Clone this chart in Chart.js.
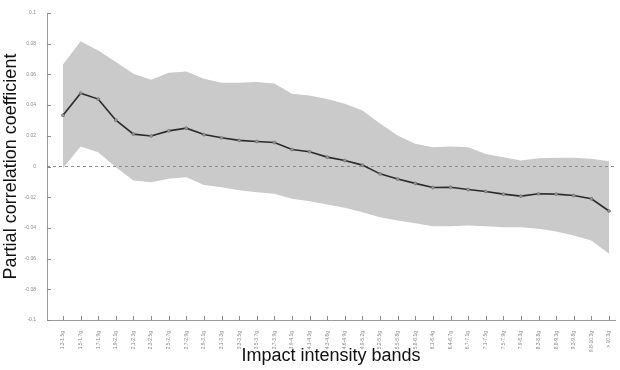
<!DOCTYPE html>
<html>
<head>
<meta charset="utf-8">
<script src="https://cdn.jsdelivr.net/npm/chart.js@4.4.0/dist/chart.umd.min.js"></script>
<style>
  html, body { margin: 0; padding: 0; background: #fff; }
  #wrap { width: 620px; height: 370px; }
</style>
</head>
<body>
<div id="wrap"><canvas id="myChart" width="620" height="370"></canvas></div>
<script>
const bands = ["1.3-1.5g", "1.5-1.7g", "1.7-1.9g", "1.9-2.1g", "2.1-2.3g", "2.3-2.5g", "2.5-2.7g", "2.7-2.9g",
    "2.9-3.1g", "3.1-3.3g", "3.3-3.5g", "3.5-3.7g", "3.7-3.9g", "3.9-4.1g", "4.1-4.3g", "4.3-4.6g",
    "4.6-4.9g", "4.9-5.2g", "5.2-5.5g", "5.5-5.8g", "5.8-6.1g", "6.1-6.4g", "6.4-6.7g", "6.7-7.1g",
    "7.1-7.5g", "7.5-7.9g", "7.9-8.3g", "8.3-8.8g", "8.8-9.3g", "9.3-9.8g", "9.8-10.3g", "> 10.3g"];

const meanCoef = [0.0334, 0.0478, 0.0439, 0.0302, 0.0211, 0.0199, 0.0232, 0.0250,
    0.0208, 0.0187, 0.0170, 0.0163, 0.0156, 0.0111, 0.0096, 0.0061,
    0.0039, 0.0009, -0.0048, -0.0082, -0.0110, -0.0137, -0.0135, -0.0150,
    -0.0163, -0.0180, -0.0193, -0.0178, -0.0180, -0.0189, -0.0210, -0.0290];

const upperCI = [0.0664, 0.0816, 0.0756, 0.0680, 0.0604, 0.0565, 0.0610, 0.0619,
    0.0571, 0.0545, 0.0545, 0.0550, 0.0540, 0.0474, 0.0463, 0.0440,
    0.0408, 0.0365, 0.0280, 0.0202, 0.0148, 0.0125, 0.0130, 0.0126,
    0.0082, 0.0060, 0.0039, 0.0054, 0.0057, 0.0057, 0.0050, 0.0035];

const lowerCI = [-0.0010, 0.0130, 0.0093, -0.0005, -0.0091, -0.0102, -0.0080, -0.0070,
    -0.0120, -0.0135, -0.0154, -0.0167, -0.0178, -0.0210, -0.0226, -0.0248,
    -0.0269, -0.0298, -0.0330, -0.0352, -0.0370, -0.0390, -0.0390, -0.0384,
    -0.0390, -0.0395, -0.0395, -0.0406, -0.0423, -0.0449, -0.0482, -0.0569];

const yTicks = [-0.1, -0.08, -0.06, -0.04, -0.02, 0, 0.02, 0.04, 0.06, 0.08, 0.1];

const xMin = -0.91;
const xMax = 31.34;

function toPoints(arr) {
    return arr.map((v, i) => ({x: i, y: v}));
}

// small tick marks drawn on the inside of the axes
const innerTicks = {
    id: 'innerTicks',
    afterDatasetsDraw(chart) {
        const ctx = chart.ctx;
        const x = chart.scales.x;
        const y = chart.scales.y;
        ctx.save();
        ctx.strokeStyle = '#8a8a8a';
        ctx.lineWidth = 1;
        ctx.beginPath();
        bands.forEach((b, i) => {
            const px = Math.round(x.getPixelForValue(i)) + 0.5;
            ctx.moveTo(px, y.bottom);
            ctx.lineTo(px, y.bottom - 4);
        });
        yTicks.forEach(v => {
            const py = Math.round(y.getPixelForValue(v)) + 0.5;
            ctx.moveTo(x.left, py);
            ctx.lineTo(x.left + 4, py);
        });
        ctx.stroke();
        ctx.restore();
    }
};

const ctx = document.getElementById('myChart').getContext('2d');
new Chart(ctx, {
    type: 'scatter',
    data: {
        datasets: [
            {
                label: 'Mean',
                data: toPoints(meanCoef),
                showLine: true,
                borderColor: '#2b2b2b',
                borderWidth: 1.6,
                pointRadius: 1.5,
                pointBackgroundColor: '#999',
                pointBorderColor: '#666',
                pointBorderWidth: 0.6,
                fill: false,
                order: 0
            },
            {
                label: 'Zero',
                data: [{x: xMin, y: 0}, {x: xMax, y: 0}],
                showLine: true,
                borderColor: '#8c8c8c',
                borderWidth: 1,
                borderDash: [3, 3],
                pointRadius: 0,
                fill: false,
                order: 1
            },
            {
                label: 'Upper',
                data: toPoints(upperCI),
                showLine: true,
                borderWidth: 0,
                borderColor: 'rgba(0,0,0,0)',
                backgroundColor: '#cacaca',
                pointRadius: 0,
                fill: '+1',
                order: 2
            },
            {
                label: 'Lower',
                data: toPoints(lowerCI),
                showLine: true,
                borderWidth: 0,
                borderColor: 'rgba(0,0,0,0)',
                pointRadius: 0,
                fill: false,
                order: 3
            }
        ]
    },
    options: {
        responsive: false,
        animation: false,
        layout: {padding: {top: 13, right: 5, left: 0, bottom: 0}},
        plugins: {
            legend: {display: false},
            tooltip: {enabled: false}
        },
        scales: {
            x: {
                type: 'linear',
                min: xMin,
                max: xMax,
                grid: {display: false},
                border: {display: true, color: '#9a9a9a', width: 1},
                afterBuildTicks: scale => {
                    scale.ticks = bands.map((b, i) => ({value: i}));
                },
                afterFit: scale => { scale.height = 50; },
                ticks: {
                    autoSkip: false,
                    maxRotation: 90,
                    minRotation: 90,
                    padding: 3,
                    color: '#8a8a8a',
                    font: {family: 'Liberation Sans', size: 5},
                    callback: v => bands[v]
                },
                title: {
                    display: true,
                    text: 'Impact intensity bands',
                    color: '#111',
                    font: {family: 'Liberation Sans', size: 18},
                    padding: {top: 0, bottom: 3}
                }
            },
            y: {
                min: -0.1,
                max: 0.1,
                grid: {display: false},
                border: {display: true, color: '#9a9a9a', width: 1},
                afterBuildTicks: scale => {
                    scale.ticks = yTicks.map(v => ({value: v}));
                },
                afterFit: scale => { scale.width = 47; },
                ticks: {
                    padding: 3,
                    color: '#8a8a8a',
                    font: {family: 'Liberation Sans', size: 5},
                    callback: v => String(parseFloat(v.toFixed(2)))
                },
                title: {
                    display: true,
                    text: 'Partial correlation coefficient',
                    color: '#111',
                    font: {family: 'Liberation Sans', size: 18},
                    padding: {top: 0, bottom: 0}
                }
            }
        }
    },
    plugins: [innerTicks]
});
</script>
</body>
</html>
